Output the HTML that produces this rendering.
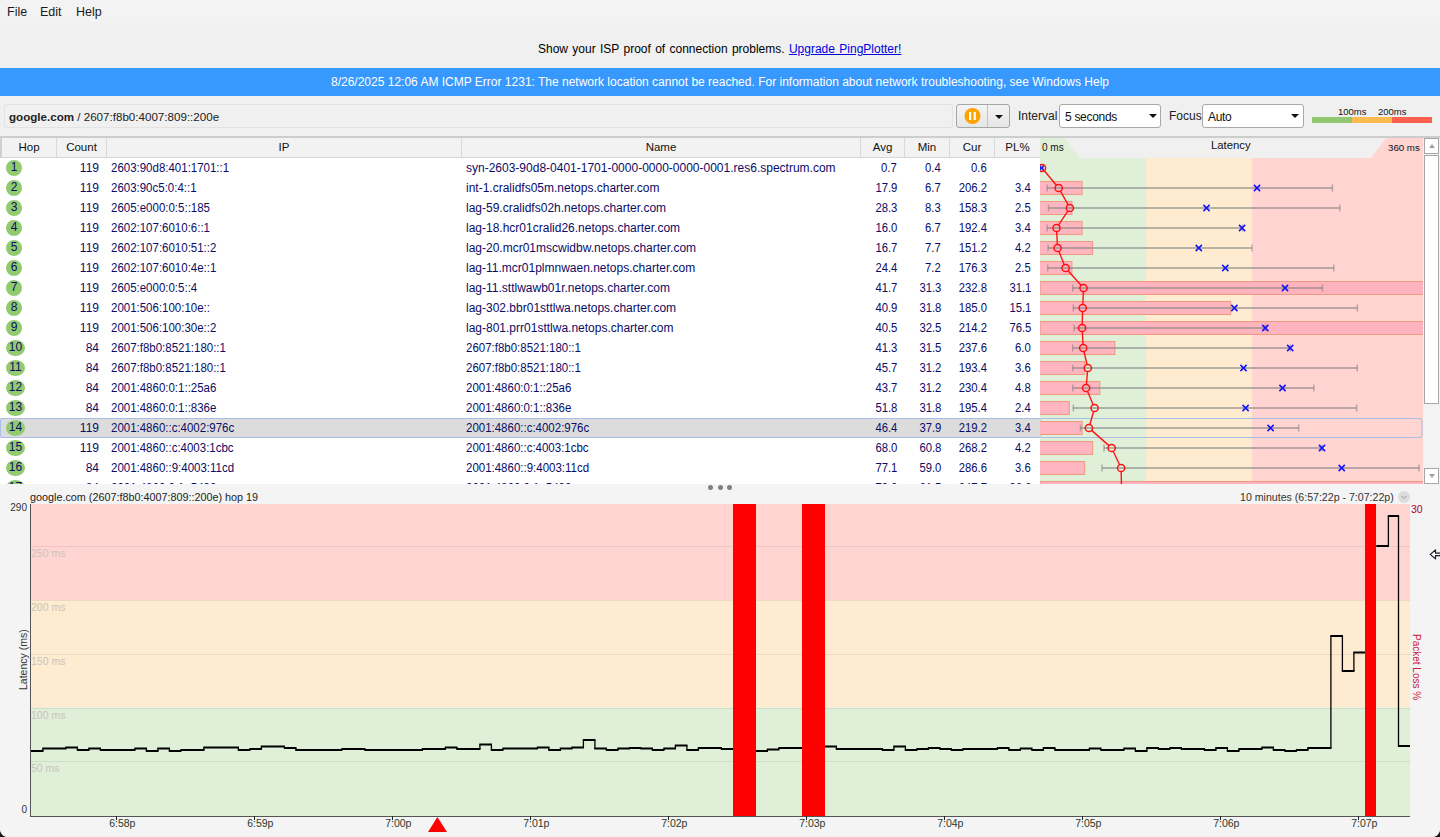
<!DOCTYPE html>
<html><head><meta charset="utf-8"><style>
*{box-sizing:border-box}
html,body{margin:0;padding:0;width:1440px;height:837px;overflow:hidden;background:#1a1a1a}
body{font-family:"Liberation Sans",sans-serif;position:relative}
#win{position:absolute;left:0;top:0;width:1440px;height:837px;background:#f0f0f0;border-radius:0 0 8px 8px;overflow:hidden}
.abs{position:absolute}
#menu{position:absolute;left:0;top:0;width:1440px;height:23px;background:#f3f3f3}
#menu span{position:absolute;top:5px;font-size:12.5px;color:#1a1a1a;line-height:15px}
#upg{position:absolute;left:538px;top:42px;font-size:12px;line-height:15px;color:#000;word-spacing:1px;white-space:nowrap}
#upg a{color:#0000e0;text-decoration:underline}
#banner{position:absolute;left:0;top:68px;width:1440px;height:28px;background:#3798fd;color:#fff;font-size:12px;line-height:28px;text-align:center;white-space:nowrap}
#addr{position:absolute;left:4px;top:104px;width:949px;height:24px;border:1px solid #e3e3e3;border-radius:2px;background:#f0f0f0;font-size:11.6px;line-height:23.5px;padding-left:4px;color:#222;white-space:nowrap}
#pbtn{position:absolute;left:956px;top:104px;width:54px;height:24px;border:1px solid #a6a6a6;border-radius:3px;background:linear-gradient(#f4f4f4,#e6e6e6)}
#pdiv{position:absolute;left:29.5px;top:0;width:1px;height:22px;background:#c4c4c4}
.cmb{position:absolute;top:104px;height:24px;border:1px solid #a8a8a8;border-radius:3px;background:#fff;font-size:12px;line-height:24px;padding-left:5px;color:#111;letter-spacing:-0.3px}
.tri{position:absolute;width:0;height:0;border-left:4px solid transparent;border-right:4px solid transparent;border-top:4.5px solid #111}
.lbl{position:absolute;top:109px;font-size:12px;line-height:15px;color:#222}
#tbl{position:absolute;left:0;top:136px;width:1440px;height:348px;background:#fff;overflow:hidden}
#ttop{position:absolute;left:0;top:0;width:1440px;height:2px;background:#cdcdcd}
#hdr{position:absolute;left:0;top:2px;width:1040px;height:20px;background:#f2f2f2;border-bottom:1px solid #d6d6d6}
#hdr2{position:absolute;left:1040px;top:2px;width:383px;height:20px;background:#f0f0f0}
.hc{position:absolute;top:0;height:19px;line-height:18px;font-size:11.5px;color:#111;text-align:center;border-right:1px solid #d9d9d9}
.row{position:absolute;left:0;width:1040px;height:20px;font-size:12px;line-height:20px;color:#0c0c66}
.selbg{position:absolute;left:0;top:418px;width:1040px;height:20px;background:#dcdcdc;border:1px solid #a9bde6;border-right:none;border-radius:2px 0 0 2px}
.hop{position:absolute;left:6px;top:2px;height:16px;border-radius:50%;background:#92cb6f;font-size:12px;line-height:15px;text-align:center;color:#0c0c66}
.c{position:absolute;top:0;white-space:nowrap}
.cnt{right:941px}
.ip{left:111px;font-size:12px;transform:scaleX(0.957);transform-origin:0 0}
.nm{left:466px;font-size:12px}
.nmip{transform:scaleX(0.957);transform-origin:0 0}
.avg{right:143px;font-size:12px;transform:scaleX(0.94);transform-origin:100% 0}
.mn{right:99px;font-size:12px;transform:scaleX(0.94);transform-origin:100% 0}
.cur{right:53px;font-size:12px;transform:scaleX(0.94);transform-origin:100% 0}
.pl{right:9px;font-size:12px;transform:scaleX(0.94);transform-origin:100% 0}
#sb{position:absolute;left:1423px;top:138px;width:17px;height:346px;background:#f3f3f3}
.sbb{position:absolute;left:1px;width:15px;background:#fff;border:1px solid #a6a6a6}
#bot{position:absolute;left:0;top:484px;width:1440px;height:353px;background:#f4f4f4}
.xl{position:absolute;top:817px;font-size:10.5px;line-height:13px;color:#2b3a2b;white-space:nowrap}
.gl{position:absolute;left:31px;font-size:10.5px;line-height:12px;color:#c9c3bd;white-space:nowrap}
</style></head><body><div id="win">
<div id="menu"><span style="left:7px">File</span><span style="left:40px">Edit</span><span style="left:76px">Help</span></div>
<div id="upg">Show your ISP proof of connection problems. <a>Upgrade PingPlotter!</a></div>
<div id="banner">8/26/2025 12:06 AM ICMP Error 1231: The network location cannot be reached. For information about network troubleshooting, see Windows Help</div>
<div id="addr"><b>google.com</b> / 2607:f8b0:4007:809::200e</div>
<div id="pbtn"><div id="pdiv"></div>
 <svg class="abs" style="left:7px;top:2px" width="18" height="18"><circle cx="8.5" cy="9" r="8" fill="#fba300"/><rect x="5" y="5" width="2.2" height="8" fill="#fff"/><rect x="9.6" y="5" width="2.2" height="8" fill="#fff"/></svg>
 <div class="tri" style="left:38px;top:9.5px"></div>
</div>
<div class="lbl" style="left:1018px">Interval</div>
<div class="cmb" style="left:1059px;width:102px">5 seconds<div class="tri" style="left:89px;top:9px"></div></div>
<div class="lbl" style="left:1169px">Focus</div>
<div class="cmb" style="left:1202px;width:102px">Auto<div class="tri" style="left:88px;top:9px"></div></div>
<div class="abs" style="left:1338px;top:106px;font-size:9.5px;line-height:11px;color:#111">100ms</div>
<div class="abs" style="left:1378px;top:106px;font-size:9.5px;line-height:11px;color:#111">200ms</div>
<div class="abs" style="left:1312px;top:117px;width:40px;height:6px;background:#93c872"></div>
<div class="abs" style="left:1352px;top:117px;width:40px;height:6px;background:#fdbb4f"></div>
<div class="abs" style="left:1392px;top:117px;width:40px;height:6px;background:#fe604d"></div>

<div id="tbl">
<div id="ttop"></div>
<div id="hdr">
<div class="hc" style="left:0;width:57px;border-left:2px solid #d0d0d0">Hop</div>
<div class="hc" style="left:57px;width:50px">Count</div>
<div class="hc" style="left:107px;width:355px">IP</div>
<div class="hc" style="left:462px;width:399px">Name</div>
<div class="hc" style="left:861px;width:44px">Avg</div>
<div class="hc" style="left:905px;width:45px">Min</div>
<div class="hc" style="left:950px;width:45px">Cur</div>
<div class="hc" style="left:995px;width:45px;border-right:none">PL%</div>
</div>
<div id="hdr2"></div>
</div>
<div class="abs" style="left:0;top:0;width:1440px;height:484px;overflow:hidden">
<div class="selbg"></div>
<div class="row" style="top:158px">
<div class="hop" style="width:16px">1</div>
<div class="c cnt">119</div><div class="c ip">2603:90d8:401:1701::1</div><div class="c nm">syn-2603-90d8-0401-1701-0000-0000-0000-0001.res6.spectrum.com</div>
<div class="c avg">0.7</div><div class="c mn">0.4</div><div class="c cur">0.6</div><div class="c pl"></div>
</div>
<div class="row" style="top:178px">
<div class="hop" style="width:16px">2</div>
<div class="c cnt">119</div><div class="c ip">2603:90c5:0:4::1</div><div class="c nm">int-1.cralidfs05m.netops.charter.com</div>
<div class="c avg">17.9</div><div class="c mn">6.7</div><div class="c cur">206.2</div><div class="c pl">3.4</div>
</div>
<div class="row" style="top:198px">
<div class="hop" style="width:16px">3</div>
<div class="c cnt">119</div><div class="c ip">2605:e000:0:5::185</div><div class="c nm">lag-59.cralidfs02h.netops.charter.com</div>
<div class="c avg">28.3</div><div class="c mn">8.3</div><div class="c cur">158.3</div><div class="c pl">2.5</div>
</div>
<div class="row" style="top:218px">
<div class="hop" style="width:16px">4</div>
<div class="c cnt">119</div><div class="c ip">2602:107:6010:6::1</div><div class="c nm">lag-18.hcr01cralid26.netops.charter.com</div>
<div class="c avg">16.0</div><div class="c mn">6.7</div><div class="c cur">192.4</div><div class="c pl">3.4</div>
</div>
<div class="row" style="top:238px">
<div class="hop" style="width:16px">5</div>
<div class="c cnt">119</div><div class="c ip">2602:107:6010:51::2</div><div class="c nm">lag-20.mcr01mscwidbw.netops.charter.com</div>
<div class="c avg">16.7</div><div class="c mn">7.7</div><div class="c cur">151.2</div><div class="c pl">4.2</div>
</div>
<div class="row" style="top:258px">
<div class="hop" style="width:16px">6</div>
<div class="c cnt">119</div><div class="c ip">2602:107:6010:4e::1</div><div class="c nm">lag-11.mcr01plmnwaen.netops.charter.com</div>
<div class="c avg">24.4</div><div class="c mn">7.2</div><div class="c cur">176.3</div><div class="c pl">2.5</div>
</div>
<div class="row" style="top:278px">
<div class="hop" style="width:16px">7</div>
<div class="c cnt">119</div><div class="c ip">2605:e000:0:5::4</div><div class="c nm">lag-11.sttlwawb01r.netops.charter.com</div>
<div class="c avg">41.7</div><div class="c mn">31.3</div><div class="c cur">232.8</div><div class="c pl">31.1</div>
</div>
<div class="row" style="top:298px">
<div class="hop" style="width:16px">8</div>
<div class="c cnt">119</div><div class="c ip">2001:506:100:10e::</div><div class="c nm">lag-302.bbr01sttlwa.netops.charter.com</div>
<div class="c avg">40.9</div><div class="c mn">31.8</div><div class="c cur">185.0</div><div class="c pl">15.1</div>
</div>
<div class="row" style="top:318px">
<div class="hop" style="width:16px">9</div>
<div class="c cnt">119</div><div class="c ip">2001:506:100:30e::2</div><div class="c nm">lag-801.prr01sttlwa.netops.charter.com</div>
<div class="c avg">40.5</div><div class="c mn">32.5</div><div class="c cur">214.2</div><div class="c pl">76.5</div>
</div>
<div class="row" style="top:338px">
<div class="hop" style="width:19px">10</div>
<div class="c cnt">84</div><div class="c ip">2607:f8b0:8521:180::1</div><div class="c nm nmip">2607:f8b0:8521:180::1</div>
<div class="c avg">41.3</div><div class="c mn">31.5</div><div class="c cur">237.6</div><div class="c pl">6.0</div>
</div>
<div class="row" style="top:358px">
<div class="hop" style="width:19px">11</div>
<div class="c cnt">84</div><div class="c ip">2607:f8b0:8521:180::1</div><div class="c nm nmip">2607:f8b0:8521:180::1</div>
<div class="c avg">45.7</div><div class="c mn">31.2</div><div class="c cur">193.4</div><div class="c pl">3.6</div>
</div>
<div class="row" style="top:378px">
<div class="hop" style="width:19px">12</div>
<div class="c cnt">84</div><div class="c ip">2001:4860:0:1::25a6</div><div class="c nm nmip">2001:4860:0:1::25a6</div>
<div class="c avg">43.7</div><div class="c mn">31.2</div><div class="c cur">230.4</div><div class="c pl">4.8</div>
</div>
<div class="row" style="top:398px">
<div class="hop" style="width:19px">13</div>
<div class="c cnt">84</div><div class="c ip">2001:4860:0:1::836e</div><div class="c nm nmip">2001:4860:0:1::836e</div>
<div class="c avg">51.8</div><div class="c mn">31.8</div><div class="c cur">195.4</div><div class="c pl">2.4</div>
</div>
<div class="row sel" style="top:418px">
<div class="hop" style="width:19px">14</div>
<div class="c cnt">119</div><div class="c ip">2001:4860::c:4002:976c</div><div class="c nm nmip">2001:4860::c:4002:976c</div>
<div class="c avg">46.4</div><div class="c mn">37.9</div><div class="c cur">219.2</div><div class="c pl">3.4</div>
</div>
<div class="row" style="top:438px">
<div class="hop" style="width:19px">15</div>
<div class="c cnt">119</div><div class="c ip">2001:4860::c:4003:1cbc</div><div class="c nm nmip">2001:4860::c:4003:1cbc</div>
<div class="c avg">68.0</div><div class="c mn">60.8</div><div class="c cur">268.2</div><div class="c pl">4.2</div>
</div>
<div class="row" style="top:458px">
<div class="hop" style="width:19px">16</div>
<div class="c cnt">84</div><div class="c ip">2001:4860::9:4003:11cd</div><div class="c nm nmip">2001:4860::9:4003:11cd</div>
<div class="c avg">77.1</div><div class="c mn">59.0</div><div class="c cur">286.6</div><div class="c pl">3.6</div>
</div>
<div class="row" style="top:478px">
<div class="hop" style="width:19px">17</div>
<div class="c cnt">84</div><div class="c ip">2001:4860:0:1::5492</div><div class="c nm nmip">2001:4860:0:1::5492</div>
<div class="c avg">79.2</div><div class="c mn">61.5</div><div class="c cur">247.7</div><div class="c pl">36.6</div>
</div>
</div>
<svg class="abs" style="left:0;top:0" width="1440" height="484"><defs><clipPath id="lc"><rect x="1040" y="0" width="383" height="484"/></clipPath></defs><g clip-path="url(#lc)">
<rect x="1040" y="158" width="106" height="326" fill="#e0efd8"/>
<rect x="1146" y="158" width="106" height="326" fill="#ffecd0"/>
<rect x="1252" y="158" width="171" height="326" fill="#ffd4d1"/>
<polygon points="1040,138 1065,138 1080,158 1040,158" fill="#e0efd8"/>
<polygon points="1386,138 1423,138 1423,158 1371,158" fill="#ffd4d1"/>
<rect x="1040" y="418.5" width="382" height="19" rx="2" fill="none" stroke="#a9bde6" stroke-width="1"/>
<rect x="1039.5" y="181.5" width="42.6" height="13" fill="#ffb6c1" stroke="#ee9a80" stroke-width="1"/>
<rect x="1039.5" y="201.5" width="32.4" height="13" fill="#ffb6c1" stroke="#ee9a80" stroke-width="1"/>
<rect x="1039.5" y="221.5" width="42.6" height="13" fill="#ffb6c1" stroke="#ee9a80" stroke-width="1"/>
<rect x="1039.5" y="241.5" width="53.1" height="13" fill="#ffb6c1" stroke="#ee9a80" stroke-width="1"/>
<rect x="1039.5" y="261.5" width="32.4" height="13" fill="#ffb6c1" stroke="#ee9a80" stroke-width="1"/>
<rect x="1040" y="281.5" width="390" height="13" fill="#ffb3bd" stroke="#ee9a80" stroke-width="1"/>
<rect x="1039.5" y="301.5" width="191.2" height="13" fill="#ffb6c1" stroke="#ee9a80" stroke-width="1"/>
<rect x="1040" y="321.5" width="390" height="13" fill="#ffb3bd" stroke="#ee9a80" stroke-width="1"/>
<rect x="1039.5" y="341.5" width="75.4" height="13" fill="#ffb6c1" stroke="#ee9a80" stroke-width="1"/>
<rect x="1039.5" y="361.5" width="45.2" height="13" fill="#ffb6c1" stroke="#ee9a80" stroke-width="1"/>
<rect x="1039.5" y="381.5" width="60.3" height="13" fill="#ffb6c1" stroke="#ee9a80" stroke-width="1"/>
<rect x="1039.5" y="401.5" width="29.8" height="13" fill="#ffb6c1" stroke="#ee9a80" stroke-width="1"/>
<rect x="1039.5" y="421.5" width="42.6" height="13" fill="#ffb6c1" stroke="#ee9a80" stroke-width="1"/>
<rect x="1039.5" y="441.5" width="53.1" height="13" fill="#ffb6c1" stroke="#ee9a80" stroke-width="1"/>
<rect x="1039.5" y="461.5" width="45.2" height="13" fill="#ffb6c1" stroke="#ee9a80" stroke-width="1"/>
<rect x="1040" y="481.5" width="390" height="13" fill="#ffb3bd" stroke="#ee9a80" stroke-width="1"/>
<line x1="1040.5" y1="168" x2="1043" y2="168" stroke="#808080" stroke-opacity="0.55" stroke-width="2"/>
<line x1="1040.5" y1="164.5" x2="1040.5" y2="171.5" stroke="#808080" stroke-opacity="0.55" stroke-width="1.5"/>
<line x1="1043" y1="164.5" x2="1043" y2="171.5" stroke="#808080" stroke-opacity="0.55" stroke-width="1.5"/>
<line x1="1047.1" y1="188" x2="1332.4" y2="188" stroke="#808080" stroke-opacity="0.55" stroke-width="2"/>
<line x1="1047.1" y1="184.5" x2="1047.1" y2="191.5" stroke="#808080" stroke-opacity="0.55" stroke-width="1.5"/>
<line x1="1332.4" y1="184.5" x2="1332.4" y2="191.5" stroke="#808080" stroke-opacity="0.55" stroke-width="1.5"/>
<line x1="1048.5" y1="208" x2="1339.8" y2="208" stroke="#808080" stroke-opacity="0.55" stroke-width="2"/>
<line x1="1048.5" y1="204.5" x2="1048.5" y2="211.5" stroke="#808080" stroke-opacity="0.55" stroke-width="1.5"/>
<line x1="1339.8" y1="204.5" x2="1339.8" y2="211.5" stroke="#808080" stroke-opacity="0.55" stroke-width="1.5"/>
<line x1="1047.1" y1="228" x2="1242.5" y2="228" stroke="#808080" stroke-opacity="0.55" stroke-width="2"/>
<line x1="1047.1" y1="224.5" x2="1047.1" y2="231.5" stroke="#808080" stroke-opacity="0.55" stroke-width="1.5"/>
<line x1="1242.5" y1="224.5" x2="1242.5" y2="231.5" stroke="#808080" stroke-opacity="0.55" stroke-width="1.5"/>
<line x1="1048" y1="248" x2="1252.1" y2="248" stroke="#808080" stroke-opacity="0.55" stroke-width="2"/>
<line x1="1048" y1="244.5" x2="1048" y2="251.5" stroke="#808080" stroke-opacity="0.55" stroke-width="1.5"/>
<line x1="1252.1" y1="244.5" x2="1252.1" y2="251.5" stroke="#808080" stroke-opacity="0.55" stroke-width="1.5"/>
<line x1="1047.7" y1="268" x2="1333.8" y2="268" stroke="#808080" stroke-opacity="0.55" stroke-width="2"/>
<line x1="1047.7" y1="264.5" x2="1047.7" y2="271.5" stroke="#808080" stroke-opacity="0.55" stroke-width="1.5"/>
<line x1="1333.8" y1="264.5" x2="1333.8" y2="271.5" stroke="#808080" stroke-opacity="0.55" stroke-width="1.5"/>
<line x1="1072.7" y1="288" x2="1322.4" y2="288" stroke="#808080" stroke-opacity="0.55" stroke-width="2"/>
<line x1="1072.7" y1="284.5" x2="1072.7" y2="291.5" stroke="#808080" stroke-opacity="0.55" stroke-width="1.5"/>
<line x1="1322.4" y1="284.5" x2="1322.4" y2="291.5" stroke="#808080" stroke-opacity="0.55" stroke-width="1.5"/>
<line x1="1073.3" y1="308" x2="1357.4" y2="308" stroke="#808080" stroke-opacity="0.55" stroke-width="2"/>
<line x1="1073.3" y1="304.5" x2="1073.3" y2="311.5" stroke="#808080" stroke-opacity="0.55" stroke-width="1.5"/>
<line x1="1357.4" y1="304.5" x2="1357.4" y2="311.5" stroke="#808080" stroke-opacity="0.55" stroke-width="1.5"/>
<line x1="1074.1" y1="328" x2="1265.3" y2="328" stroke="#808080" stroke-opacity="0.55" stroke-width="2"/>
<line x1="1074.1" y1="324.5" x2="1074.1" y2="331.5" stroke="#808080" stroke-opacity="0.55" stroke-width="1.5"/>
<line x1="1265.3" y1="324.5" x2="1265.3" y2="331.5" stroke="#808080" stroke-opacity="0.55" stroke-width="1.5"/>
<line x1="1072.7" y1="348" x2="1290.2" y2="348" stroke="#808080" stroke-opacity="0.55" stroke-width="2"/>
<line x1="1072.7" y1="344.5" x2="1072.7" y2="351.5" stroke="#808080" stroke-opacity="0.55" stroke-width="1.5"/>
<line x1="1290.2" y1="344.5" x2="1290.2" y2="351.5" stroke="#808080" stroke-opacity="0.55" stroke-width="1.5"/>
<line x1="1072.7" y1="368" x2="1357.3" y2="368" stroke="#808080" stroke-opacity="0.55" stroke-width="2"/>
<line x1="1072.7" y1="364.5" x2="1072.7" y2="371.5" stroke="#808080" stroke-opacity="0.55" stroke-width="1.5"/>
<line x1="1357.3" y1="364.5" x2="1357.3" y2="371.5" stroke="#808080" stroke-opacity="0.55" stroke-width="1.5"/>
<line x1="1072.7" y1="388" x2="1313.9" y2="388" stroke="#808080" stroke-opacity="0.55" stroke-width="2"/>
<line x1="1072.7" y1="384.5" x2="1072.7" y2="391.5" stroke="#808080" stroke-opacity="0.55" stroke-width="1.5"/>
<line x1="1313.9" y1="384.5" x2="1313.9" y2="391.5" stroke="#808080" stroke-opacity="0.55" stroke-width="1.5"/>
<line x1="1073.3" y1="408" x2="1356.6" y2="408" stroke="#808080" stroke-opacity="0.55" stroke-width="2"/>
<line x1="1073.3" y1="404.5" x2="1073.3" y2="411.5" stroke="#808080" stroke-opacity="0.55" stroke-width="1.5"/>
<line x1="1356.6" y1="404.5" x2="1356.6" y2="411.5" stroke="#808080" stroke-opacity="0.55" stroke-width="1.5"/>
<line x1="1080.4" y1="428" x2="1298.7" y2="428" stroke="#808080" stroke-opacity="0.55" stroke-width="2"/>
<line x1="1080.4" y1="424.5" x2="1080.4" y2="431.5" stroke="#808080" stroke-opacity="0.55" stroke-width="1.5"/>
<line x1="1298.7" y1="424.5" x2="1298.7" y2="431.5" stroke="#808080" stroke-opacity="0.55" stroke-width="1.5"/>
<line x1="1104" y1="448" x2="1322" y2="448" stroke="#808080" stroke-opacity="0.55" stroke-width="2"/>
<line x1="1104" y1="444.5" x2="1104" y2="451.5" stroke="#808080" stroke-opacity="0.55" stroke-width="1.5"/>
<line x1="1322" y1="444.5" x2="1322" y2="451.5" stroke="#808080" stroke-opacity="0.55" stroke-width="1.5"/>
<line x1="1102" y1="468" x2="1419" y2="468" stroke="#808080" stroke-opacity="0.55" stroke-width="2"/>
<line x1="1102" y1="464.5" x2="1102" y2="471.5" stroke="#808080" stroke-opacity="0.55" stroke-width="1.5"/>
<line x1="1419" y1="464.5" x2="1419" y2="471.5" stroke="#808080" stroke-opacity="0.55" stroke-width="1.5"/>
<line x1="1104" y1="488" x2="1380" y2="488" stroke="#808080" stroke-opacity="0.55" stroke-width="2"/>
<line x1="1104" y1="484.5" x2="1104" y2="491.5" stroke="#808080" stroke-opacity="0.55" stroke-width="1.5"/>
<line x1="1380" y1="484.5" x2="1380" y2="491.5" stroke="#808080" stroke-opacity="0.55" stroke-width="1.5"/>
<line x1="1044.31" y1="170.76" x2="1056.39" y2="185.24" stroke="#ff1010" stroke-width="1.35"/>
<line x1="1060.46" y1="191.14" x2="1068.14" y2="204.86" stroke="#ff1010" stroke-width="1.35"/>
<line x1="1067.90" y1="210.99" x2="1058.50" y2="225.01" stroke="#ff1010" stroke-width="1.35"/>
<line x1="1056.70" y1="231.59" x2="1057.40" y2="244.41" stroke="#ff1010" stroke-width="1.35"/>
<line x1="1058.94" y1="251.34" x2="1064.26" y2="264.66" stroke="#ff1010" stroke-width="1.35"/>
<line x1="1068.00" y1="270.68" x2="1081.10" y2="285.32" stroke="#ff1010" stroke-width="1.35"/>
<line x1="1083.36" y1="291.60" x2="1082.84" y2="304.40" stroke="#ff1010" stroke-width="1.35"/>
<line x1="1082.59" y1="311.60" x2="1082.21" y2="324.40" stroke="#ff1010" stroke-width="1.35"/>
<line x1="1082.30" y1="331.59" x2="1083.00" y2="344.41" stroke="#ff1010" stroke-width="1.35"/>
<line x1="1084.01" y1="351.51" x2="1086.99" y2="364.49" stroke="#ff1010" stroke-width="1.35"/>
<line x1="1087.50" y1="371.59" x2="1086.40" y2="384.41" stroke="#ff1010" stroke-width="1.35"/>
<line x1="1087.51" y1="391.31" x2="1093.19" y2="404.69" stroke="#ff1010" stroke-width="1.35"/>
<line x1="1093.61" y1="411.46" x2="1089.89" y2="424.54" stroke="#ff1010" stroke-width="1.35"/>
<line x1="1091.61" y1="430.37" x2="1108.99" y2="445.63" stroke="#ff1010" stroke-width="1.35"/>
<line x1="1113.23" y1="451.26" x2="1119.57" y2="464.74" stroke="#ff1010" stroke-width="1.35"/>
<line x1="1121.17" y1="471.60" x2="1121.43" y2="484.40" stroke="#ff1010" stroke-width="1.35"/>
<circle cx="1042" cy="168" r="3.6" fill="none" stroke="#ff1010" stroke-width="1.5"/>
<circle cx="1058.7" cy="188" r="3.6" fill="none" stroke="#ff1010" stroke-width="1.5"/>
<circle cx="1069.9" cy="208" r="3.6" fill="none" stroke="#ff1010" stroke-width="1.5"/>
<circle cx="1056.5" cy="228" r="3.6" fill="none" stroke="#ff1010" stroke-width="1.5"/>
<circle cx="1057.6" cy="248" r="3.6" fill="none" stroke="#ff1010" stroke-width="1.5"/>
<circle cx="1065.6" cy="268" r="3.6" fill="none" stroke="#ff1010" stroke-width="1.5"/>
<circle cx="1083.5" cy="288" r="3.6" fill="none" stroke="#ff1010" stroke-width="1.5"/>
<circle cx="1082.7" cy="308" r="3.6" fill="none" stroke="#ff1010" stroke-width="1.5"/>
<circle cx="1082.1" cy="328" r="3.6" fill="none" stroke="#ff1010" stroke-width="1.5"/>
<circle cx="1083.2" cy="348" r="3.6" fill="none" stroke="#ff1010" stroke-width="1.5"/>
<circle cx="1087.8" cy="368" r="3.6" fill="none" stroke="#ff1010" stroke-width="1.5"/>
<circle cx="1086.1" cy="388" r="3.6" fill="none" stroke="#ff1010" stroke-width="1.5"/>
<circle cx="1094.6" cy="408" r="3.6" fill="none" stroke="#ff1010" stroke-width="1.5"/>
<circle cx="1088.9" cy="428" r="3.6" fill="none" stroke="#ff1010" stroke-width="1.5"/>
<circle cx="1111.7" cy="448" r="3.6" fill="none" stroke="#ff1010" stroke-width="1.5"/>
<circle cx="1121.1" cy="468" r="3.6" fill="none" stroke="#ff1010" stroke-width="1.5"/>
<circle cx="1121.5" cy="488" r="3.6" fill="none" stroke="#ff1010" stroke-width="1.5"/>
<path d="M1039.3,165.8L1043.7,170.2M1043.7,165.8L1039.3,170.2" stroke="#1010ff" stroke-width="1.5"/>
<path d="M1253.9,184.9L1260.1,191.1M1260.1,184.9L1253.9,191.1" stroke="#1010ff" stroke-width="1.5"/>
<path d="M1203.4,204.9L1209.6,211.1M1209.6,204.9L1203.4,211.1" stroke="#1010ff" stroke-width="1.5"/>
<path d="M1239.0,224.9L1245.1999999999998,231.1M1245.1999999999998,224.9L1239.0,231.1" stroke="#1010ff" stroke-width="1.5"/>
<path d="M1195.7,244.9L1201.8999999999999,251.1M1201.8999999999999,244.9L1195.7,251.1" stroke="#1010ff" stroke-width="1.5"/>
<path d="M1222.2,264.9L1228.3999999999999,271.1M1228.3999999999999,264.9L1222.2,271.1" stroke="#1010ff" stroke-width="1.5"/>
<path d="M1281.9,284.9L1288.1,291.1M1288.1,284.9L1281.9,291.1" stroke="#1010ff" stroke-width="1.5"/>
<path d="M1231.3000000000002,304.9L1237.5,311.1M1237.5,304.9L1231.3000000000002,311.1" stroke="#1010ff" stroke-width="1.5"/>
<path d="M1262.2,324.9L1268.3999999999999,331.1M1268.3999999999999,324.9L1262.2,331.1" stroke="#1010ff" stroke-width="1.5"/>
<path d="M1287.1000000000001,344.9L1293.3,351.1M1293.3,344.9L1287.1000000000001,351.1" stroke="#1010ff" stroke-width="1.5"/>
<path d="M1240.4,364.9L1246.6,371.1M1246.6,364.9L1240.4,371.1" stroke="#1010ff" stroke-width="1.5"/>
<path d="M1279.4,384.9L1285.6,391.1M1285.6,384.9L1279.4,391.1" stroke="#1010ff" stroke-width="1.5"/>
<path d="M1242.5,404.9L1248.6999999999998,411.1M1248.6999999999998,404.9L1242.5,411.1" stroke="#1010ff" stroke-width="1.5"/>
<path d="M1267.5,424.9L1273.6999999999998,431.1M1273.6999999999998,424.9L1267.5,431.1" stroke="#1010ff" stroke-width="1.5"/>
<path d="M1318.9,444.9L1325.1,451.1M1325.1,444.9L1318.9,451.1" stroke="#1010ff" stroke-width="1.5"/>
<path d="M1338.6000000000001,464.9L1344.8,471.1M1344.8,464.9L1338.6000000000001,471.1" stroke="#1010ff" stroke-width="1.5"/>
<path d="M1296.9,484.9L1303.1,491.1M1303.1,484.9L1296.9,491.1" stroke="#1010ff" stroke-width="1.5"/>
</g></svg>
<div class="abs" style="left:1042px;top:142px;font-size:10px;line-height:11px;color:#111">0 ms</div>
<div class="abs" style="left:1211px;top:136.5px;font-size:11.3px;line-height:16px;color:#111">Latency</div>
<div class="abs" style="left:1388px;top:142px;font-size:9.7px;line-height:11px;color:#111">360 ms</div>
<div id="sb">
 <div class="sbb" style="top:0;height:16px"><div class="tri" style="left:3.5px;top:5px;border-left-width:3.5px;border-right-width:3.5px;border-top:none;border-bottom:4px solid #a0a0a0"></div></div>
 <div class="sbb" style="top:17px;height:249px"></div>
 <div class="sbb" style="top:330px;height:16px"><div class="tri" style="left:3.5px;top:5px;border-left-width:3.5px;border-right-width:3.5px;border-top:4px solid #a0a0a0"></div></div>
</div>

<div id="bot"></div>
<div class="abs" style="left:708px;top:485px;width:5px;height:5px;border-radius:50%;background:#808080"></div>
<div class="abs" style="left:717.5px;top:485px;width:5px;height:5px;border-radius:50%;background:#808080"></div>
<div class="abs" style="left:727px;top:485px;width:5px;height:5px;border-radius:50%;background:#808080"></div>
<div class="abs" style="left:30px;top:491px;font-size:10.8px;line-height:13px;color:#222;white-space:nowrap">google.com (2607:f8b0:4007:809::200e) hop 19</div>
<div class="abs" style="left:1240px;top:491px;font-size:10.6px;line-height:13px;color:#333;white-space:nowrap">10 minutes (6:57:22p - 7:07:22p)</div>
<svg class="abs" style="left:1398px;top:491px" width="13" height="13"><circle cx="6" cy="6" r="6" fill="#dcdcdc"/><path d="M3.5,5L6,7.5L8.5,5" fill="none" stroke="#999" stroke-width="1"/></svg>
<svg class="abs" style="left:0;top:0" width="1440" height="837">
<rect x="31" y="504" width="1379" height="96.2" fill="#ffd4d1"/>
<rect x="31" y="600.2" width="1379" height="107.4" fill="#ffecd0"/>
<rect x="31" y="707.6" width="1379" height="108.4" fill="#e0efd8"/>
<line x1="31" y1="546.5" x2="1410" y2="546.5" stroke="#000" stroke-opacity="0.075" stroke-width="1"/>
<line x1="31" y1="600.5" x2="1410" y2="600.5" stroke="#000" stroke-opacity="0.075" stroke-width="1"/>
<line x1="31" y1="654.5" x2="1410" y2="654.5" stroke="#000" stroke-opacity="0.075" stroke-width="1"/>
<line x1="31" y1="708.5" x2="1410" y2="708.5" stroke="#000" stroke-opacity="0.075" stroke-width="1"/>
<line x1="31" y1="761.5" x2="1410" y2="761.5" stroke="#000" stroke-opacity="0.075" stroke-width="1"/>
<path d="M42.9,751.0V748.5M54.4,748.5V748.5M65.9,748.5V747.5M77.4,747.5V750.0M88.9,750.0V748.5M100.4,748.5V750.0M111.9,750.0V750.0M123.4,750.0V750.0M134.9,750.0V748.5M146.4,748.5V751.0M157.9,751.0V748.5M169.4,748.5V751.0M180.9,751.0V750.0M192.4,750.0V750.0M203.9,750.0V747.5M215.4,747.5V747.5M226.9,747.5V747.5M238.4,747.5V750.0M249.9,750.0V749.0M261.4,749.0V746.5M272.9,746.5V746.5M284.4,746.5V748.0M295.9,748.0V750.0M307.4,750.0V750.0M318.9,750.0V750.0M330.4,750.0V750.0M341.9,750.0V749.0M353.4,749.0V749.0M364.9,749.0V750.0M376.4,750.0V750.0M387.9,750.0V750.0M399.4,750.0V750.0M410.9,750.0V750.0M422.4,750.0V749.0M433.9,749.0V749.0M445.4,749.0V747.5M456.9,747.5V749.0M468.4,749.0V749.0M479.9,749.0V744.5M491.4,744.5V750.0M502.9,750.0V748.5M514.4,748.5V748.5M525.9,748.5V748.5M537.4,748.5V747.5M548.9,747.5V750.0M560.4,750.0V748.5M571.9,748.5V747.5M583.4,747.5V740.0M594.9,740.0V748.5M606.4,748.5V750.0M617.9,750.0V748.5M629.4,748.5V748.0M640.9,748.0V748.5M652.4,748.5V750.0M663.9,750.0V748.5M675.4,748.5V745.5M686.9,745.5V750.0M698.4,750.0V748.0M709.9,748.0V748.0M721.4,748.0V749.0M767.4,751.0V749.5M778.9,749.5V748.0M790.4,748.0V748.0M836.4,746.5V749.0M847.9,749.0V749.0M859.4,749.0V749.0M870.9,749.0V749.0M882.4,749.0V750.0M893.9,750.0V746.5M905.4,746.5V750.0M916.9,750.0V749.0M928.4,749.0V748.0M939.9,748.0V749.0M951.4,749.0V750.0M962.9,750.0V749.0M974.4,749.0V749.0M985.9,749.0V749.0M997.4,749.0V748.0M1008.9,748.0V750.0M1020.4,750.0V748.5M1031.9,748.5V750.0M1043.4,750.0V748.0M1054.9,748.0V750.0M1066.4,750.0V750.0M1077.9,750.0V750.0M1089.4,750.0V748.5M1100.9,748.5V750.0M1112.4,750.0V750.0M1123.9,750.0V748.5M1135.4,748.5V751.0M1146.9,751.0V748.0M1158.4,748.0V749.0M1169.9,749.0V748.0M1181.4,748.0V749.0M1192.9,749.0V749.0M1204.4,749.0V750.0M1215.9,750.0V748.0M1227.4,748.0V751.0M1238.9,751.0V749.0M1250.4,749.0V749.0M1261.9,749.0V747.5M1273.4,747.5V750.0M1284.9,750.0V751.0M1296.4,751.0V750.0M1307.9,750.0V748.0M1319.4,748.0V748.0M1330.9,748.0V636.0M1342.4,636.0V671.0M1353.9,671.0V652.5M1388.4,546.0V516.0M1398.5,516.0V746.0" fill="none" stroke="#000" stroke-width="1.3"/>
<path d="M30.8,751.0H43.5M42.3,748.5H55.0M53.8,748.5H66.5M65.3,747.5H78.0M76.8,750.0H89.5M88.3,748.5H101.0M99.8,750.0H112.5M111.3,750.0H124.0M122.8,750.0H135.5M134.3,748.5H147.0M145.8,751.0H158.5M157.3,748.5H170.0M168.8,751.0H181.5M180.3,750.0H193.0M191.8,750.0H204.5M203.3,747.5H216.0M214.8,747.5H227.5M226.3,747.5H239.0M237.8,750.0H250.5M249.3,749.0H262.0M260.8,746.5H273.5M272.3,746.5H285.0M283.8,748.0H296.5M295.3,750.0H308.0M306.8,750.0H319.5M318.3,750.0H331.0M329.8,750.0H342.5M341.3,749.0H354.0M352.8,749.0H365.5M364.3,750.0H377.0M375.8,750.0H388.5M387.3,750.0H400.0M398.8,750.0H411.5M410.3,750.0H423.0M421.8,749.0H434.5M433.3,749.0H446.0M444.8,747.5H457.5M456.3,749.0H469.0M467.8,749.0H480.5M479.3,744.5H492.0M490.8,750.0H503.5M502.3,748.5H515.0M513.8,748.5H526.5M525.3,748.5H538.0M536.8,747.5H549.5M548.3,750.0H561.0M559.8,748.5H572.5M571.3,747.5H584.0M582.8,740.0H595.5M594.3,748.5H607.0M605.8,750.0H618.5M617.3,748.5H630.0M628.8,748.0H641.5M640.3,748.5H653.0M651.8,750.0H664.5M663.3,748.5H676.0M674.8,745.5H687.5M686.3,750.0H699.0M697.8,748.0H710.5M709.3,748.0H722.0M720.8,749.0H733.5M755.3,751.0H768.0M766.8,749.5H779.5M778.3,748.0H791.0M789.8,748.0H802.5M824.3,746.5H837.0M835.8,749.0H848.5M847.3,749.0H860.0M858.8,749.0H871.5M870.3,749.0H883.0M881.8,750.0H894.5M893.3,746.5H906.0M904.8,750.0H917.5M916.3,749.0H929.0M927.8,748.0H940.5M939.3,749.0H952.0M950.8,750.0H963.5M962.3,749.0H975.0M973.8,749.0H986.5M985.3,749.0H998.0M996.8,748.0H1009.5M1008.3,750.0H1021.0M1019.8,748.5H1032.5M1031.3,750.0H1044.0M1042.8,748.0H1055.5M1054.3,750.0H1067.0M1065.8,750.0H1078.5M1077.3,750.0H1090.0M1088.8,748.5H1101.5M1100.3,750.0H1113.0M1111.8,750.0H1124.5M1123.3,748.5H1136.0M1134.8,751.0H1147.5M1146.3,748.0H1159.0M1157.8,749.0H1170.5M1169.3,748.0H1182.0M1180.8,749.0H1193.5M1192.3,749.0H1205.0M1203.8,750.0H1216.5M1215.3,748.0H1228.0M1226.8,751.0H1239.5M1238.3,749.0H1251.0M1249.8,749.0H1262.5M1261.3,747.5H1274.0M1272.8,750.0H1285.5M1284.3,751.0H1297.0M1295.8,750.0H1308.5M1307.3,748.0H1320.0M1318.8,748.0H1331.5M1330.3,636.0H1343.0M1341.8,671.0H1354.5M1353.3,652.5H1366.0M1376.3,546.0H1389.0M1387.8,516.0H1399.1M1397.9,746.0H1410.0" fill="none" stroke="#000" stroke-width="2"/>
<rect x="733" y="504" width="23" height="312" fill="#ff0000"/>
<rect x="802" y="504" width="23" height="312" fill="#ff0000"/>
<rect x="1365" y="504" width="11" height="312" fill="#ff0000"/>
<rect x="30" y="504" width="1" height="313" fill="#555"/>
<rect x="30" y="816" width="1380" height="1" fill="#555"/>
<rect x="116.0" y="816" width="1" height="4" fill="#222"/>
<rect x="254.0" y="816" width="1" height="4" fill="#222"/>
<rect x="392.0" y="816" width="1" height="4" fill="#222"/>
<rect x="530.0" y="816" width="1" height="4" fill="#222"/>
<rect x="668.0" y="816" width="1" height="4" fill="#222"/>
<rect x="806.0" y="816" width="1" height="4" fill="#222"/>
<rect x="944.0" y="816" width="1" height="4" fill="#222"/>
<rect x="1082.0" y="816" width="1" height="4" fill="#222"/>
<rect x="1220.0" y="816" width="1" height="4" fill="#222"/>
<rect x="1358.0" y="816" width="1" height="4" fill="#222"/>
<polygon points="437.4,817 428,832 447,832" fill="#ff0000"/>
</svg>
<div class="gl" style="top:546.5px">250 ms</div>
<div class="gl" style="top:600.5px">200 ms</div>
<div class="gl" style="top:654.5px">150 ms</div>
<div class="gl" style="top:708.5px">100 ms</div>
<div class="gl" style="top:761.5px">50 ms</div>
<div class="xl" style="left:109.2px">6:58p</div>
<div class="xl" style="left:247.2px">6:59p</div>
<div class="xl" style="left:385.2px">7:00p</div>
<div class="xl" style="left:523.2px">7:01p</div>
<div class="xl" style="left:661.2px">7:02p</div>
<div class="xl" style="left:799.2px">7:03p</div>
<div class="xl" style="left:937.2px">7:04p</div>
<div class="xl" style="left:1075.2px">7:05p</div>
<div class="xl" style="left:1213.2px">7:06p</div>
<div class="xl" style="left:1351.2px">7:07p</div>
<div class="abs" style="right:1413px;top:502px;font-size:10px;line-height:12px;color:#333">290</div>
<div class="abs" style="right:1413px;top:804px;font-size:10px;line-height:12px;color:#333">0</div>
<div class="abs" style="left:1411px;top:503px;font-size:10.5px;line-height:12px;color:#b40018">30</div>
<div class="abs" style="left:-7px;top:654px;width:60px;font-size:10.5px;line-height:12px;color:#333;transform:rotate(-90deg);text-align:center;white-space:nowrap">Latency (ms)</div>
<div class="abs" style="left:1383px;top:661px;width:66px;font-size:10px;line-height:12px;color:#c8203a;transform:rotate(90deg);text-align:center;white-space:nowrap">Packet Loss %</div>
<svg class="abs" style="left:1429px;top:548px" width="11" height="12"><path d="M1.3,6.4L6.5,1.9V5.1H12V7.7H6.5V10.9Z" fill="#fff" stroke="#1a1a24" stroke-width="1.2" stroke-linejoin="round"/></svg>
</div></body></html>
